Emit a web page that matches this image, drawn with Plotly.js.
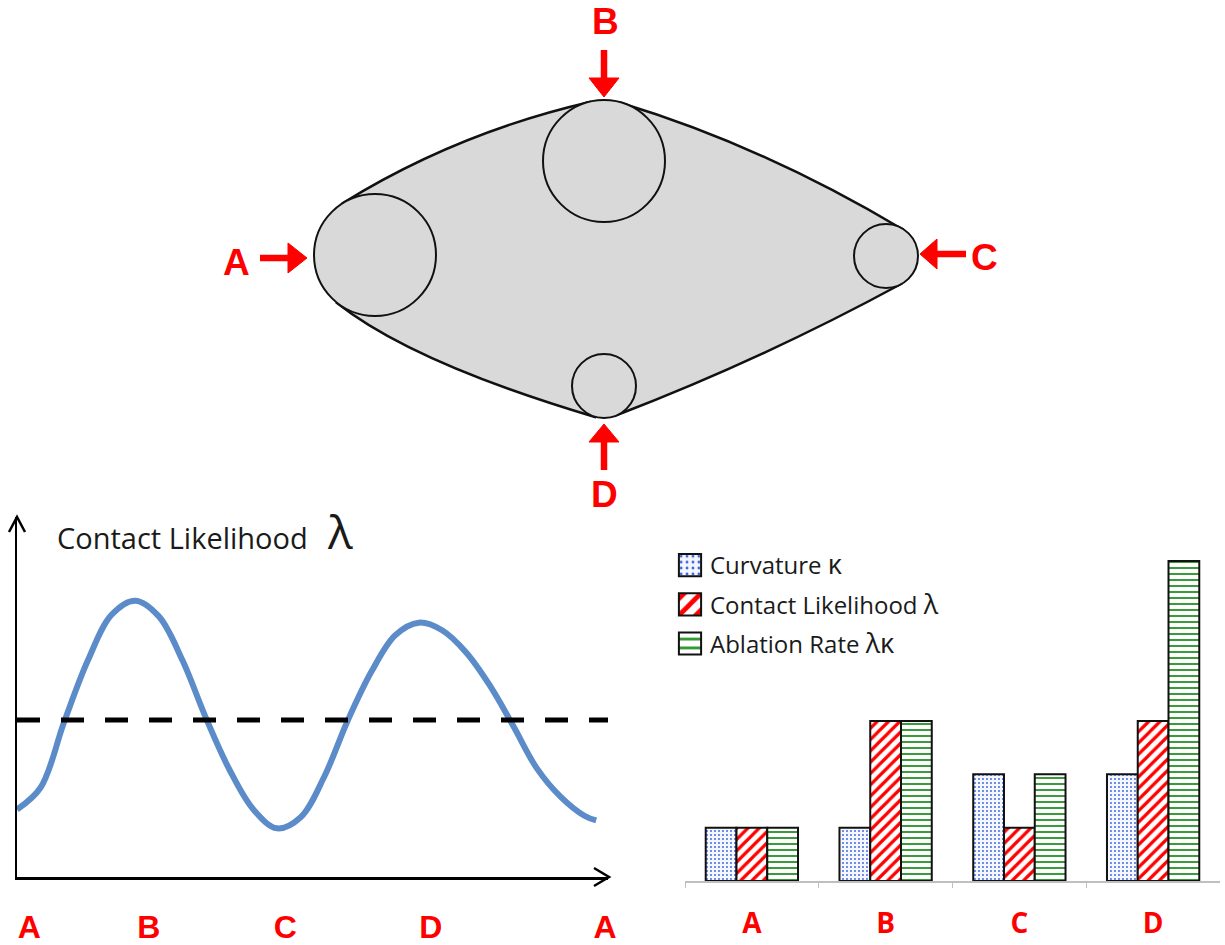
<!DOCTYPE html>
<html><head><meta charset="utf-8">
<script src="https://cdn.plot.ly/plotly-3.0.1.min.js"></script>
<style>html,body{margin:0;padding:0;background:#fff}#chart{width:1225px;height:945px}</style>
</head><body><div id="chart"></div>
<script>
// ---------------- data ----------------
const contactPoints = ['A', 'B', 'C', 'D'];

// line chart: position along the outline (0-100) and contact likelihood (mean = 1)
const perimeterPos = [0, 4, 8, 12, 16, 20, 24, 28, 32, 36, 40, 44, 48, 52, 56, 60, 64, 68, 72, 76, 80, 84, 88, 92, 96, 98];
const contactLikelihood = [0.43, 0.57, 0.99, 1.38, 1.67, 1.76, 1.66, 1.38, 1.01, 0.68, 0.43, 0.31, 0.38,
  0.64, 1.00, 1.31, 1.54, 1.62, 1.57, 1.43, 1.22, 0.96, 0.69, 0.51, 0.39, 0.36];
const meanLikelihood = [1.0, 1.0];
const meanPos = [0, 100];
const lineTickPos = [2.1, 22.3, 45.4, 70.0, 99.5];
const lineTickText = ['A', 'B', 'C', 'D', 'A'];

// bar chart
const barCategories = ['A', 'B', 'C', 'D'];
const curvature = [1, 1, 2, 2];
const contactBar = [1, 3, 1, 3];
const ablation = [1, 3, 2, 6];

// diagram: contact circles (pixel centre and radius)
const circleX = [375, 604, 886, 604];
const circleY = [255, 161, 256, 386];
const circleR = [61, 61, 32, 32];

// ---------------- helpers ----------------
const W = 1225, H = 945;
const X = v => v / W;
const Y = v => 1 - v / H;
const P = (x, y) => X(x).toFixed(5) + ',' + Y(y).toFixed(5);
const FONT = '"Open Sans", "Noto Sans", sans-serif';
const LABEL_FONT = '"Liberation Sans", Arial, sans-serif';
const RED = '#ff0000';
const GRAY = '#d9d9d9';

const shapes = [];
const annotations = [];

// lens outline (quadratic curves between tangent points; joins hidden under circles)
const lensPath = 'M' + P(343, 203) + ' Q' + P(456, 133) + ' ' + P(590, 102) +
  ' L' + P(604, 161) + ' L' + P(621, 103) +
  ' Q' + P(763, 146) + ' ' + P(902, 229) +
  ' L' + P(886, 256) + ' L' + P(901, 284) +
  ' Q' + P(763, 359) + ' ' + P(617, 415) +
  ' L' + P(604, 386) + ' L' + P(595, 417) +
  ' Q' + P(413, 363) + ' ' + P(337, 303) +
  ' L' + P(375, 255) + ' Z';
shapes.push({type: 'path', xref: 'paper', yref: 'paper', path: lensPath,
  fillcolor: GRAY, line: {color: '#111', width: 2.5}, layer: 'above'});

contactPoints.forEach((c, i) => {
  shapes.push({type: 'circle', xref: 'paper', yref: 'paper',
    x0: X(circleX[i] - circleR[i]), x1: X(circleX[i] + circleR[i]),
    y0: Y(circleY[i] + circleR[i]), y1: Y(circleY[i] - circleR[i]),
    fillcolor: GRAY, line: {color: '#111', width: 2}, layer: 'above'});
});

// red arrows + labels
const arrows = [
  {shaft: [260, 258, 291, 258], head: [[288, 243], [307, 258], [288, 273]], label: [237, 262]},
  {shaft: [604, 50, 604, 80], head: [[589, 78], [604, 97], [619, 78]], label: [605, 22]},
  {shaft: [966, 254, 934, 254], head: [[937, 239], [920, 254], [937, 269]], label: [984, 257]},
  {shaft: [604, 470, 604, 439], head: [[589, 442], [604, 424], [619, 442]], label: [604, 494]}
];
arrows.forEach((a, i) => {
  shapes.push({type: 'line', xref: 'paper', yref: 'paper',
    x0: X(a.shaft[0]), y0: Y(a.shaft[1]), x1: X(a.shaft[2]), y1: Y(a.shaft[3]),
    line: {color: RED, width: 6.5}, layer: 'above'});
  shapes.push({type: 'path', xref: 'paper', yref: 'paper',
    path: 'M' + a.head.map(p => P(p[0], p[1])).join(' L') + ' Z',
    fillcolor: RED, line: {color: RED, width: 1}, layer: 'above'});
  annotations.push({xref: 'paper', yref: 'paper', x: X(a.label[0]), y: Y(a.label[1]),
    xanchor: 'center', yanchor: 'middle', showarrow: false,
    text: contactPoints[i], font: {family: LABEL_FONT, size: 37, color: RED, weight: 'bold'}});
});

// line-chart axis arrowheads (open chevrons)
shapes.push({type: 'path', xref: 'paper', yref: 'paper',
  path: 'M' + P(9, 532) + ' L' + P(17, 517) + ' L' + P(25, 532),
  line: {color: '#000', width: 2.5}, layer: 'above'});
shapes.push({type: 'path', xref: 'paper', yref: 'paper',
  path: 'M' + P(594, 868) + ' L' + P(609, 877) + ' L' + P(594, 886),
  line: {color: '#000', width: 2.5}, layer: 'above'});

// line chart title
annotations.push({xref: 'paper', yref: 'paper', x: X(55), y: Y(537), xanchor: 'left', yanchor: 'middle',
  showarrow: false, text: 'Contact Likelihood', font: {family: FONT, size: 29, color: '#1a1a1a'}});
annotations.push({xref: 'paper', yref: 'paper', x: X(340), y: Y(531), xanchor: 'center', yanchor: 'middle',
  showarrow: false, text: 'λ', font: {family: FONT, size: 46, color: '#1a1a1a'}});

// ---------------- traces ----------------
const data = [
  {type: 'scatter', mode: 'lines', x: perimeterPos, y: contactLikelihood, xaxis: 'x', yaxis: 'y',
   line: {color: '#5b8bc9', width: 6, shape: 'spline', smoothing: 1}, showlegend: false, hoverinfo: 'skip'},
  {type: 'scatter', mode: 'lines', x: meanPos, y: meanLikelihood, xaxis: 'x', yaxis: 'y',
   line: {color: '#000', width: 5, dash: '23px,21px'}, showlegend: false, hoverinfo: 'skip'},
  {type: 'bar', name: 'Curvature <span style="font-size:27px">κ</span>', x: barCategories, y: curvature,
   xaxis: 'x2', yaxis: 'y2', legendgroup: 'g1',
   marker: {color: '#f2f5ff', line: {color: '#111', width: 2},
     pattern: {shape: '.', fgcolor: '#3b64d8', bgcolor: '#f4f7ff', size: 4, solidity: 0.18}}},
  {type: 'bar', name: 'Contact Likelihood <span style="font-size:27px">λ</span>', x: barCategories, y: contactBar,
   xaxis: 'x2', yaxis: 'y2', legendgroup: 'g2',
   marker: {color: '#ffffff', line: {color: '#111', width: 2},
     pattern: {shape: '/', fgcolor: RED, bgcolor: '#ffffff', size: 8, solidity: 0.4}}},
  {type: 'bar', name: 'Ablation Rate <span style="font-size:27px">λκ</span>', x: barCategories, y: ablation,
   xaxis: 'x2', yaxis: 'y2', legendgroup: 'g3',
   marker: {color: '#ffffff', line: {color: '#111', width: 2},
     pattern: {shape: '-', fgcolor: '#239023', bgcolor: '#ffffff', size: 6, solidity: 0.3}}}
];

// ---------------- layout ----------------
const layout = {
  width: W, height: H,
  margin: {l: 0, r: 0, t: 0, b: 0},
  paper_bgcolor: '#ffffff', plot_bgcolor: 'rgba(0,0,0,0)',
  font: {family: FONT},
  showlegend: true,
  barmode: 'group', bargap: 0.31, bargroupgap: 0,
  xaxis: {domain: [X(17), X(608)], range: [0, 100], showline: true, linecolor: '#000', linewidth: 2.5,
    showgrid: false, zeroline: false, ticks: '', tickvals: lineTickPos, ticktext: lineTickText,
    tickfont: {family: LABEL_FONT, size: 32, color: RED, weight: 'bold'}, ticklabelstandoff: 20, fixedrange: true},
  yaxis: {domain: [Y(877), Y(517)], range: [0, 2.293], showline: true, linecolor: '#000', linewidth: 2.5,
    showgrid: false, zeroline: false, ticks: '', showticklabels: false, fixedrange: true},
  xaxis2: {anchor: 'y2', domain: [X(685), X(1220)], type: 'category', showline: true, linecolor: '#bfbfbf',
    linewidth: 1.5, showgrid: false, zeroline: false, ticks: 'outside', tickson: 'boundaries', ticklen: 5,
    tickcolor: '#bfbfbf', tickfont: {family: FONT, size: 28, color: RED, weight: 'bold'}, ticklabelstandoff: 17,
    fixedrange: true},
  yaxis2: {anchor: 'x2', domain: [Y(881), Y(529)], range: [0, 6.6], visible: false, fixedrange: true},
  legend: {x: X(670), y: Y(543), xanchor: 'left', yanchor: 'top', bgcolor: 'rgba(0,0,0,0)',
    font: {family: FONT, size: 24, color: '#1a1a1a'}, traceorder: 'grouped', tracegroupgap: 5,
    itemclick: false, itemdoubleclick: false},
  shapes: shapes,
  annotations: annotations
};

Plotly.newPlot('chart', data, layout, {staticPlot: true, displayModeBar: false}).then(gd => {
  gd.querySelectorAll('.legend .legendpoints path').forEach(p => {
    const t = p.getAttribute('transform') || '';
    p.setAttribute('transform', t + ' scale(1.85)');
    p.style.vectorEffect = 'non-scaling-stroke';
  });
});
</script>
</body></html>
